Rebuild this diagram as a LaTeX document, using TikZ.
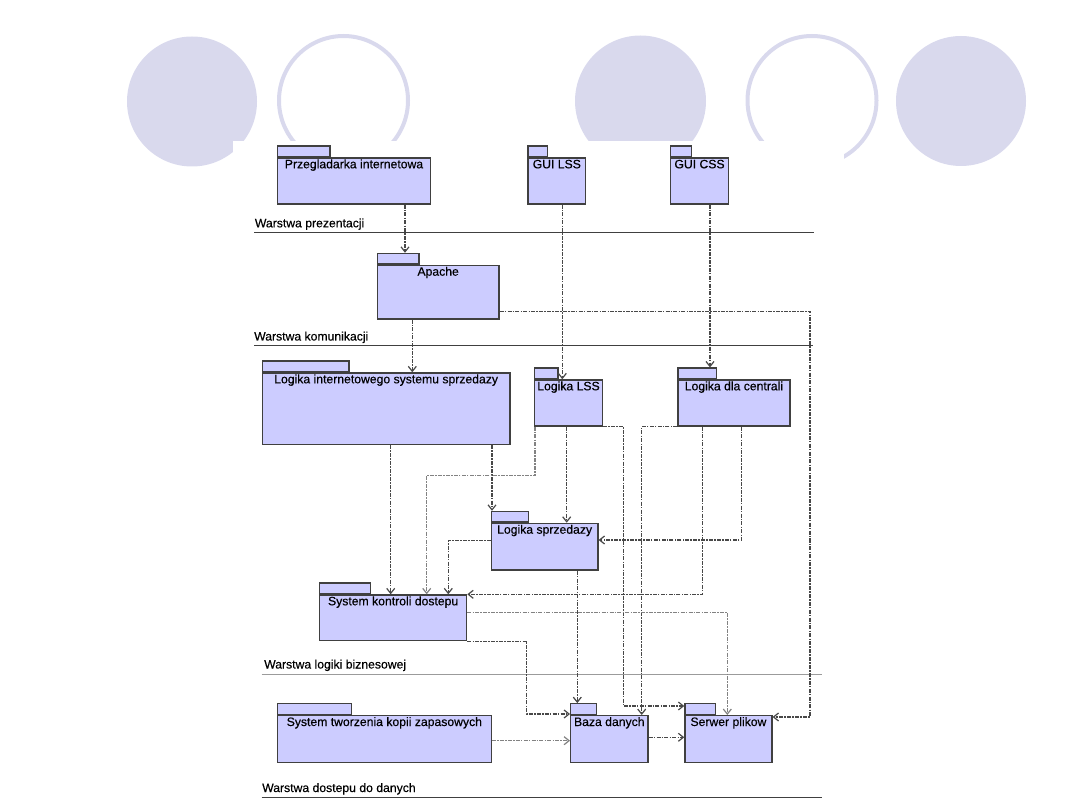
\documentclass[tikz,border=0pt]{standalone}
\usepackage{fontspec}
\setmainfont{Liberation Sans}
\newfontfamily\diagfont{Liberation Sans}[FakeBold=0.35]
\usetikzlibrary{arrows.meta}
\definecolor{pkgfill}{RGB}{204,204,255}
\definecolor{pkgline}{RGB}{64,64,64}
\definecolor{deco}{RGB}{217,217,237}
\definecolor{depdark}{RGB}{72,72,72}
\definecolor{deplight}{RGB}{130,130,130}
\definecolor{layergrey}{RGB}{155,155,155}

\begin{document}
\begin{tikzpicture}[x=1pt, y=-1pt,
    pkg/.style={draw=pkgline, fill=pkgfill, line width=1.3pt, inner sep=0pt, anchor=north west, minimum height=46pt},
    pkg-tab/.style={pkg, anchor=south west, minimum height=10.6pt},
    pkg-label/.style={anchor=base, inner sep=0pt, font=\diagfont\fontsize{12.2}{14}\selectfont},
    layer-label/.style={anchor=base west, inner sep=0pt, font=\diagfont\fontsize{12.2}{14}\selectfont},
    layer/.style={draw=pkgline, line width=1.2pt},
    dep/.style={draw=depdark, line width=1.2pt, dash pattern=on 4pt off 1.2pt on 1.5pt off 1.2pt,
        -{Straight Barb[length=5pt,width=8pt]}},
    dep-light/.style={dep, draw=deplight},
    blob/.style={fill=deco},
    ring/.style={draw=deco, line width=4pt}
]
\useasboundingbox (0,0) rectangle (1080,810);

% --- slide decoration ---
\fill[blob] (192,101.5) circle[radius=65];
\draw[ring] (343.5,100.5) circle[radius=64.5];
\fill[blob] (640.5,101) circle[radius=65.5];
\draw[ring] (812,100.5) circle[radius=64.5];
\fill[blob] (961,101) circle[radius=65];
\fill[white] (233,141) rectangle (844,810);

% --- layers ---
\node[layer-label] (prez) at (254.7,227.3) {Warstwa prezentacji};
\draw[layer] (254,232.3) -- (814,232.3);
\node[layer-label] (kom) at (254,340.5) {Warstwa komunikacji};
\draw[layer] (254,345.7) -- (813.3,345.7);
\node[layer-label] (biz) at (264,668.5) {Warstwa logiki biznesowej};
\draw[layer, draw=layergrey] (261.7,674.3) -- (821.7,674.3);
\node[layer-label] (dost) at (262,792) {Warstwa dostepu do danych};
\draw[layer] (261.7,797.3) -- (821.7,797.3);

% --- packages ---
\node[pkg, minimum width=153.3pt] (przeg) at (276.7,157.3) {};
\node[pkg-tab, minimum width=52.6pt] (przeg-tab) at (przeg.north west) {};
\node[pkg-label] (przeg-lbl) at ([yshift=-11pt]przeg.north) {Przegladarka internetowa};

\node[pkg, minimum width=57.7pt] (guilss) at (527.3,157.3) {};
\node[pkg-tab, minimum width=19.4pt] (guilss-tab) at (guilss.north west) {};
\node[pkg-label] (guilss-lbl) at ([yshift=-11pt]guilss.north) {GUI LSS};

\node[pkg, minimum width=57.7pt] (guicss) at (670,157.3) {};
\node[pkg-tab, minimum width=20.7pt] (guicss-tab) at (guicss.north west) {};
\node[pkg-label] (guicss-lbl) at ([yshift=-11pt]guicss.north) {GUI CSS};

\node[pkg, minimum width=121.6pt, minimum height=53.6pt] (apache) at (376.7,264.7) {};
\node[pkg-tab, minimum width=41.6pt] (apache-tab) at (apache.north west) {};
\node[pkg-label] (apache-lbl) at ([yshift=-11pt]apache.north) {Apache};

\node[pkg, minimum width=247.6pt, minimum height=71.7pt] (logint) at (261.7,372.3) {};
\node[pkg-tab, minimum width=86.6pt] (logint-tab) at (logint.north west) {};
\node[pkg-label] (logint-lbl) at ([yshift=-11pt]logint.north) {Logika internetowego systemu sprzedazy};

\node[pkg, minimum width=67.7pt] (loglss) at (534,379.3) {};
\node[pkg-tab, minimum width=23.3pt] (loglss-tab) at (loglss.north west) {};
\node[pkg-label] (loglss-lbl) at ([yshift=-11pt]loglss.north) {Logika LSS};

\node[pkg, minimum width=112pt] (logcen) at (677.3,379.3) {};
\node[pkg-tab, minimum width=38.7pt] (logcen-tab) at (logcen.north west) {};
\node[pkg-label] (logcen-lbl) at ([yshift=-11pt]logcen.north) {Logika dla centrali};

\node[pkg, minimum width=106.6pt, minimum height=46.6pt] (logsprz) at (490.7,522.7) {};
\node[pkg-tab, minimum width=37pt] (logsprz-tab) at (logsprz.north west) {};
\node[pkg-label] (logsprz-lbl) at ([yshift=-11pt]logsprz.north) {Logika sprzedazy};

\node[pkg, minimum width=147pt, minimum height=45.7pt] (skd) at (319,594.3) {};
\node[pkg-tab, minimum width=51pt] (skd-tab) at (skd.north west) {};
\node[pkg-label] (skd-lbl) at ([yshift=-11pt]skd.north) {System kontroli dostepu};

\node[pkg, minimum width=214pt, minimum height=46.7pt] (kopie) at (276.7,715) {};
\node[pkg-tab, minimum width=74.3pt] (kopie-tab) at (kopie.north west) {};
\node[pkg-label] (kopie-lbl) at ([yshift=-11pt]kopie.north) {System tworzenia kopii zapasowych};

\node[pkg, minimum width=77.3pt, minimum height=46.7pt] (baza) at (570,715) {};
\node[pkg-tab, minimum width=26pt] (baza-tab) at (baza.north west) {};
\node[pkg-label] (baza-lbl) at ([yshift=-11pt]baza.north) {Baza danych};

\node[pkg, minimum width=87pt, minimum height=46.7pt] (serwer) at (684.3,715) {};
\node[pkg-tab, minimum width=30.4pt] (serwer-tab) at (serwer.north west) {};
\node[pkg-label] (serwer-lbl) at ([yshift=-11pt]serwer.north) {Serwer plikow};

% --- dependencies ---
\draw[dep] (405,0 |- przeg.south) -- (405,0 |- apache-tab.north);
\draw[dep] (562.3,0 |- guilss.south) -- (562.3,0 |- loglss.north);
\draw[dep] (710,0 |- guicss.south) -- (710,0 |- logcen-tab.north);
\draw[dep] (0,311.7 -| apache.east) -| (810,717) -- (0,717 -| serwer.east);
\draw[dep] (412.3,0 |- apache.south) -- (412.3,0 |- logint.north);
\draw[dep] (390.7,0 |- logint.south) -- (390.7,0 |- skd.north);
\draw[dep] (492,0 |- logint.south) -- (492,0 |- logsprz-tab.north);
\draw[dep-light] (535,0 |- loglss.south) |- (426.7,475.7) -- (426.7,0 |- skd.north);
\draw[dep] (566.7,0 |- loglss.south) -- (566.7,0 |- logsprz.north);
\draw[dep] (loglss.south east) -| (623.3,706) -- (0,706 -| serwer-tab.west);
\draw[dep] (logcen.south west) -| (641.7,0 |- baza.north);
\draw[dep] (702.3,0 |- logcen.south) |- (skd.north east);
\draw[dep] (741.7,0 |- logcen.south) |- (0,540 -| logsprz.east);
\draw[dep] (0,540.7 -| logsprz.west) -| (448.3,0 |- skd.north);
\draw[dep] (577.3,0 |- logsprz.south) -- (577.3,0 |- baza-tab.north);
\draw[dep-light] (0,612.3 -| skd.east) -| (727.3,0 |- serwer.north);
\draw[dep] (skd.south east) -| (526.7,714) -- (0,714 -| baza.west);
\draw[dep] (0,737.3 -| baza.east) -- (0,737.3 -| serwer.west);
\draw[dep-light] (0,740.7 -| kopie.east) -- (0,740.7 -| baza.west);

\end{tikzpicture}
\end{document}
